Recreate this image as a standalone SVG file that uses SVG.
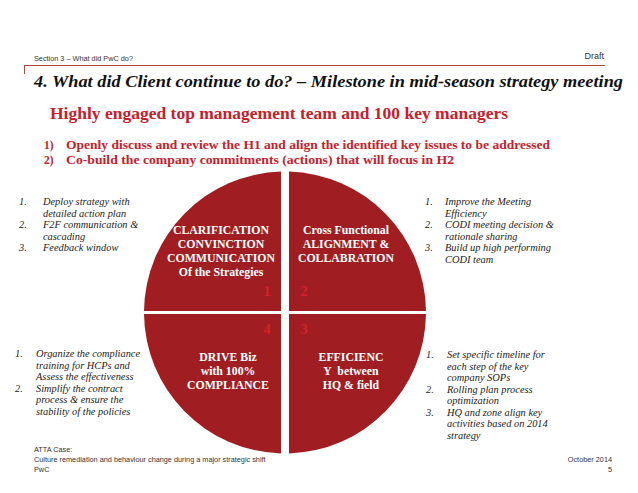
<svg xmlns="http://www.w3.org/2000/svg" width="638" height="493" viewBox="0 0 638 493">
<style>
.hdr{font-family:"Liberation Sans",Arial,sans-serif;font-size:7.3px;fill:#333}
.title{font-family:"Liberation Serif","Times New Roman",serif;font-weight:bold;font-style:italic;font-size:17.5px;fill:#111}
.sub{font-family:"Liberation Serif","Times New Roman",serif;font-weight:bold;font-size:16.5px;fill:#C8202A}
.pt{font-family:"Liberation Serif","Times New Roman",serif;font-weight:bold;font-size:11.5px;fill:#C8202A}
.q{fill:#A01E22}
.ql{font-family:"Liberation Serif","Times New Roman",serif;font-weight:bold;font-size:11.8px;fill:#fff;text-anchor:middle}
.num{font-family:"Liberation Serif","Times New Roman",serif;font-weight:bold;font-size:15px;fill:#D42027;text-anchor:middle}
.li{font-family:"Liberation Serif","Times New Roman",serif;font-style:italic;font-size:10.4px;fill:#222}
</style>
<rect width="638" height="493" fill="#fff"/>
<g id="header">
<text class="hdr" x="34" y="61">Section 3 – What did PwC do?</text>
<text class="hdr" x="604" y="59" text-anchor="end" style="font-size:9px">Draft</text>
<line x1="24" y1="65.5" x2="605" y2="65.5" stroke="#B0473B" stroke-width="1"/>
<line x1="24.5" y1="65" x2="24.5" y2="74" stroke="#B0473B" stroke-width="1"/>
<text class="title" x="34" y="87" textLength="589" lengthAdjust="spacingAndGlyphs">4. What did Client continue to do? – Milestone in mid-season strategy meeting</text>
</g>
<g id="subtitle">
<text class="sub" x="50" y="119" textLength="458" lengthAdjust="spacingAndGlyphs">Highly engaged top management team and 100 key managers</text>
<text class="pt" x="44" y="149">1)</text>
<text class="pt" x="66" y="149" textLength="484" lengthAdjust="spacingAndGlyphs">Openly discuss and review the H1 and align the identified key issues to be addressed</text>
<text class="pt" x="44" y="164">2)</text>
<text class="pt" x="66" y="164" textLength="388" lengthAdjust="spacingAndGlyphs">Co-build the company commitments (actions) that will focus in H2</text>
</g>
<g id="q1">
<path class="q" d="M281,311 L144.01,311 A141,141 0 0 1 281,171.56 Z"/>
<text class="ql" x="221" y="234">CLARIFICATION</text>
<text class="ql" x="221" y="248">CONVINCTION</text>
<text class="ql" x="221" y="262">COMMUNICATION</text>
<text class="ql" x="221" y="275.5">Of the Strategies</text>
<text class="num" x="267" y="296">1</text>
</g>
<g id="q2">
<path class="q" d="M289,311 L289,171.56 A141,141 0 0 1 425.99,311 Z"/>
<text class="ql" x="346" y="234">Cross Functional</text>
<text class="ql" x="346" y="248">ALIGNMENT &amp;</text>
<text class="ql" x="346" y="262">COLLABRATION</text>
<text class="num" x="304" y="296">2</text>
</g>
<g id="q3">
<path class="q" d="M289,314 L425.99,314 A141,141 0 0 1 289,453.44 Z"/>
<text class="ql" x="351" y="361">EFFICIENC</text>
<text class="ql" x="351" y="375" xml:space="preserve">Y  between</text>
<text class="ql" x="351" y="388.5">HQ &amp; field</text>
<text class="num" x="304" y="334">3</text>
</g>
<g id="q4">
<path class="q" d="M281,314 L281,453.44 A141,141 0 0 1 144.01,314 Z"/>
<text class="ql" x="228" y="361">DRIVE Biz</text>
<text class="ql" x="228" y="375">with 100%</text>
<text class="ql" x="228" y="388.5">COMPLIANCE</text>
<text class="num" x="267" y="334">4</text>
</g>
<g id="list1">
<text class="li" x="19" y="205">1.</text>
<text class="li" x="43" y="205">Deploy strategy with</text>
<text class="li" x="43" y="216.5">detailed action plan</text>
<text class="li" x="19" y="228">2.</text>
<text class="li" x="43" y="228">F2F communication &amp;</text>
<text class="li" x="43" y="239.5">cascading</text>
<text class="li" x="19" y="251">3.</text>
<text class="li" x="43" y="251">Feedback window</text>
</g>
<g id="list2">
<text class="li" x="425" y="205">1.</text>
<text class="li" x="445" y="205">Improve the Meeting</text>
<text class="li" x="445" y="216.5">Efficiency</text>
<text class="li" x="425" y="228">2.</text>
<text class="li" x="445" y="228">CODI meeting decision &amp;</text>
<text class="li" x="445" y="239.5">rationale sharing</text>
<text class="li" x="425" y="251">3.</text>
<text class="li" x="445" y="251">Build up high performing</text>
<text class="li" x="445" y="262.5">CODI team</text>
</g>
<g id="list4">
<text class="li" x="15" y="357">1.</text>
<text class="li" x="36" y="357">Organize the compliance</text>
<text class="li" x="36" y="368.5">training for HCPs  and</text>
<text class="li" x="36" y="380">Assess the effectiveness</text>
<text class="li" x="15" y="391.5">2.</text>
<text class="li" x="36" y="391.5">Simplify the contract</text>
<text class="li" x="36" y="403">process &amp; ensure the</text>
<text class="li" x="36" y="414.5">stability of the policies</text>
</g>
<g id="list3">
<text class="li" x="426" y="358">1.</text>
<text class="li" x="447" y="358">Set specific timeline for</text>
<text class="li" x="447" y="369.5">each step of the key</text>
<text class="li" x="447" y="381">company SOPs</text>
<text class="li" x="426" y="392.5">2.</text>
<text class="li" x="447" y="392.5">Rolling plan process</text>
<text class="li" x="447" y="404">optimization</text>
<text class="li" x="426" y="415.5">3.</text>
<text class="li" x="447" y="415.5">HQ and zone align key</text>
<text class="li" x="447" y="427">activities based on 2014</text>
<text class="li" x="447" y="438.5">strategy</text>
</g>
<g id="footer">
<text class="hdr" x="34" y="452">ATTA Case:</text>
<text class="hdr" x="34" y="462">Culture remediation and behaviour change during a major strategic shift</text>
<text class="hdr" x="34" y="472">PwC</text>
<text class="hdr" x="612" y="462" text-anchor="end">October 2014</text>
<text class="hdr" x="612" y="472" text-anchor="end">5</text>
</g>
</svg>
